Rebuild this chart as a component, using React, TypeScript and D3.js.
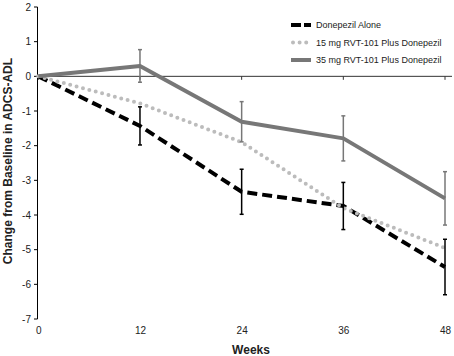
import React from "react";
import * as d3 from "d3";

const weeks = [0, 12, 24, 36, 48];
const yTicks = [2, 1, 0, -1, -2, -3, -4, -5, -6, -7];
const seriesNames = ["Donepezil Alone", "15 mg RVT-101 Plus Donepezil", "35 mg RVT-101 Plus Donepezil"];
const donepezilMean = [0, -1.43, -3.33, -3.74, -5.5];
const donepezilErr = [0, 0.55, 0.65, 0.68, 0.8];
const rvt15Mean = [0, -0.78, -1.9, -3.8, -4.95];
const rvt35Mean = [0, 0.3, -1.31, -1.79, -3.52];
const rvt35Err = [0, 0.47, 0.58, 0.65, 0.77];

const W = 454, H = 356;
const FONT = "'Liberation Sans', Arial, Helvetica, sans-serif";

export default function App() {
  const x = d3.scaleLinear().domain([0, 48]).range([38.3, 445]);
  const y = d3.scaleLinear().domain([-7, 2]).range([319, 7]);
  const line = (vals: number[]) =>
    d3.line<number>().x((_, i) => x(weeks[i])).y((v) => y(v))(vals) || "";

  const errBars = (means: number[], errs: number[], color: string, key: string) =>
    means.map((m, i) =>
      errs[i] > 0 ? (
        <g key={key + i} stroke={color} strokeWidth={1.5}>
          <line x1={x(weeks[i])} x2={x(weeks[i])} y1={y(m + errs[i])} y2={y(m - errs[i])} />
          <line x1={x(weeks[i]) - 2} x2={x(weeks[i]) + 2} y1={y(m + errs[i])} y2={y(m + errs[i])} />
          <line x1={x(weeks[i]) - 2} x2={x(weeks[i]) + 2} y1={y(m - errs[i])} y2={y(m - errs[i])} />
        </g>
      ) : null
    );

  const styles = [
    { stroke: "#000", width: 4, dash: "10 5", cap: "butt" as const },
    { stroke: "#bcbcbc", width: 4, dash: "0 6.6", cap: "round" as const },
    { stroke: "#777", width: 4, dash: undefined, cap: "butt" as const },
  ];

  return (
    <svg width={W} height={H} style={{ position: "absolute", left: 0, top: 0 }} fontFamily={FONT}>
      <rect width={W} height={H} fill="#fff" />
      {/* y axis */}
      <line x1={37.5} x2={37.5} y1={y(2)} y2={y(-7)} stroke="#000" strokeWidth={1} />
      {yTicks.map((t) => (
        <g key={"yt" + t}>
          <line x1={34} x2={37.5} y1={y(t)} y2={y(t)} stroke="#000" strokeWidth={1} />
          <text x={31} y={y(t)} dy="0.35em" textAnchor="end" fontSize={10} fill="#222">
            {t}
          </text>
        </g>
      ))}
      {/* x axis at zero */}
      <line x1={37.5} x2={452} y1={y(0)} y2={y(0)} stroke="#333" strokeWidth={1} />
      {weeks.map((w) => (
        <g key={"xt" + w}>
          <line x1={x(w)} x2={x(w)} y1={y(0)} y2={y(0) + 3.5} stroke="#333" strokeWidth={1} />
          <text x={x(w) + 0.5} y={333.5} textAnchor="middle" fontSize={10} fill="#222">
            {w}
          </text>
        </g>
      ))}
      {/* series */}
      <path d={line(donepezilMean)} fill="none" stroke={styles[0].stroke} strokeWidth={styles[0].width} strokeDasharray={styles[0].dash} />
      <path d={line(rvt15Mean)} fill="none" stroke={styles[1].stroke} strokeWidth={styles[1].width} strokeDasharray={styles[1].dash} strokeLinecap="round" />
      <path d={line(rvt35Mean)} fill="none" stroke={styles[2].stroke} strokeWidth={styles[2].width} strokeLinejoin="round" />
      {errBars(donepezilMean, donepezilErr, "#000", "d")}
      {errBars(rvt35Mean, rvt35Err, "#777", "r")}
      {/* legend */}
      {seriesNames.map((name, i) => {
        const ly = 25 + i * 17.5;
        return (
          <g key={"lg" + i}>
            <line
              x1={i === 1 ? 293 : 291}
              x2={311}
              y1={ly}
              y2={ly}
              stroke={styles[i].stroke}
              strokeWidth={styles[i].width}
              strokeDasharray={i === 0 ? "10 3" : styles[i].dash}
              strokeLinecap={styles[i].cap}
            />
            <text x={316} y={ly} dy="0.35em" fontSize={9} fill="#222">
              {name}
            </text>
          </g>
        );
      })}
      {/* titles */}
      <text
        transform={`translate(11.5, 161) rotate(-90)`}
        textAnchor="middle"
        fontSize={12}
        fontWeight="bold"
        fill="#222"
      >
        Change from Baseline in ADCS-ADL
      </text>
      <text x={251} y={354} textAnchor="middle" fontSize={12} fontWeight="bold" fill="#222">
        Weeks
      </text>
    </svg>
  );
}
